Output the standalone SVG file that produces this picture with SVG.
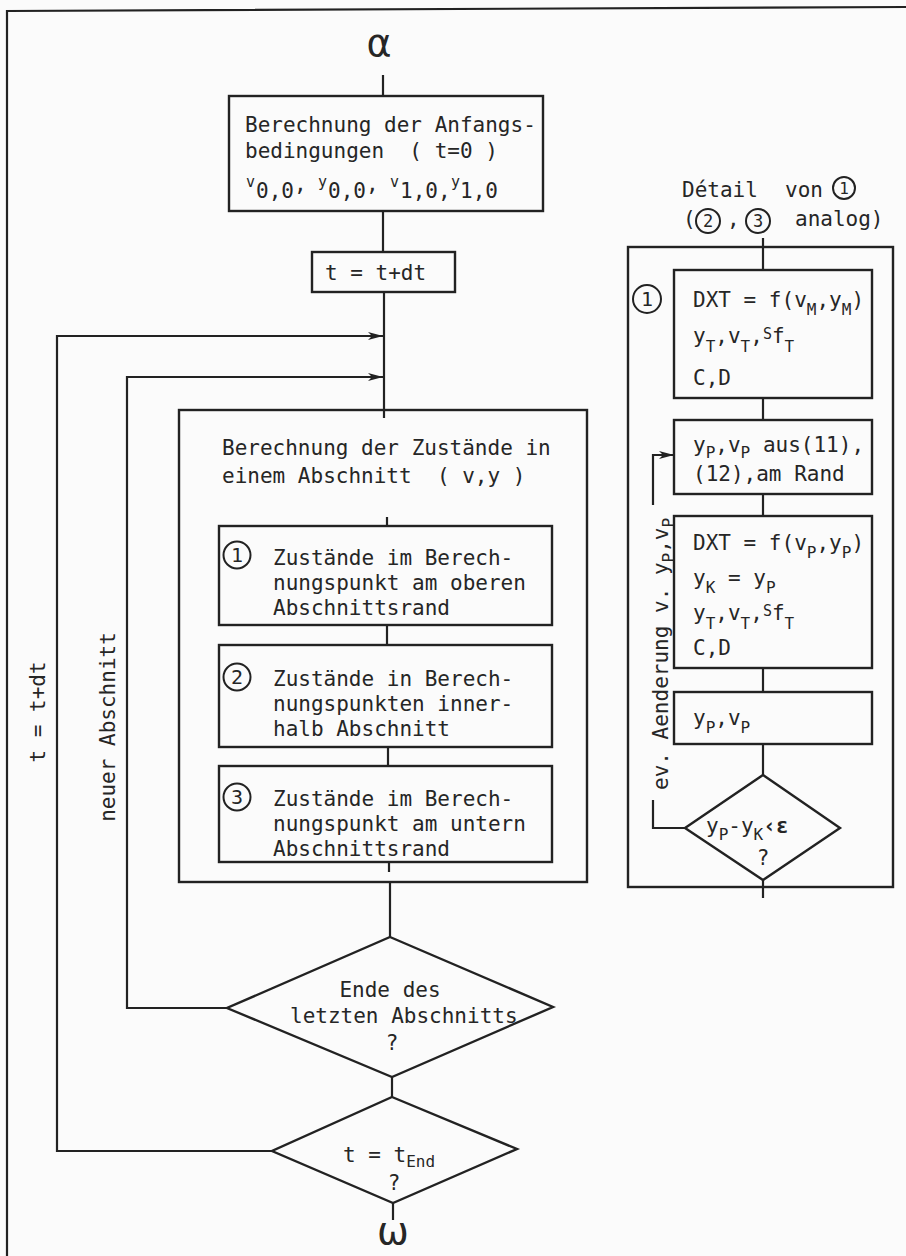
<svg xmlns="http://www.w3.org/2000/svg" width="906" height="1256" viewBox="0 0 906 1256">
<defs>
<marker id="arr" markerWidth="16" markerHeight="10" refX="15" refY="5" orient="auto" markerUnits="userSpaceOnUse">
<path d="M0,1 L15,5 L0,9 L4,5 Z" fill="#222"/>
</marker>
</defs>
<style>
.ln{fill:none;stroke:#222;stroke-width:2.2}
.bx{fill:none;stroke:#222;stroke-width:2.4}
.t{font-family:"DejaVu Sans Mono","Liberation Mono",monospace;font-size:21px;fill:#262626}
.s{font-size:15px}
.sb{font-size:16px}
.c{fill:none;stroke:#222;stroke-width:2}
.cd{font-family:"DejaVu Sans Mono","Liberation Mono",monospace;fill:#262626;text-anchor:middle}
.g{font-family:"DejaVu Sans","Liberation Sans",sans-serif;font-size:38px;fill:#262626;text-anchor:middle}
.m{text-anchor:middle}
</style>
<rect width="906" height="1256" fill="#fbfbfb"/>
<g id="frame"><path class="ln" d="M7,1256 L7,11 L906,7"/></g>

<g id="connectors">
<path class="ln" d="M383,75 V96"/>
<path class="ln" d="M383,211 V252"/>
<path class="ln" d="M384,292 V418"/>
<path class="ln" d="M272,1151 H57 V336 H383" marker-end="url(#arr)"/>
<path class="ln" d="M227,1008 H127 V377 H383" marker-end="url(#arr)"/>
<path class="ln" d="M387,517 V526"/>
<path class="ln" d="M387,625 V645"/>
<path class="ln" d="M388,747 V766"/>
<path class="ln" d="M389,862 V872"/>
<path class="ln" d="M390,882 V937"/>
<path class="ln" d="M392,1077 V1097"/>
<path class="ln" d="M393,1203 V1220"/>
<path class="ln" d="M763,238 V270"/>
<path class="ln" d="M763,398 V420"/>
<path class="ln" d="M763,494 V516"/>
<path class="ln" d="M763,668 V692"/>
<path class="ln" d="M763,744 V775"/>
<path class="ln" d="M763,880 V898"/>
<path class="ln" d="M685,828 H653 V800"/>
<path class="ln" d="M653,505 V455 H674" marker-end="url(#arr)"/>
</g>

<g id="labels">
<text class="t m" transform="translate(45,712) rotate(-90)">t = t+dt</text>
<text class="t m" transform="translate(115,727) rotate(-90)">neuer Abschnitt</text>
<text class="t" transform="translate(668,790) rotate(-90)">ev. Aenderung v. y<tspan class="sb" dy="6">P</tspan><tspan dy="-6">,v</tspan><tspan class="sb" dy="6">P</tspan></text>
</g>

<g id="alpha"><text class="g" x="379" y="56">α</text></g>

<g id="start">
<rect class="bx" x="229" y="96" width="314" height="115"/>
<text class="t" x="245" y="132">Berechnung der Anfangs-</text>
<text class="t" x="245" y="158" xml:space="preserve">bedingungen  ( t=0 )</text>
<text class="t" y="198"><tspan class="s" x="246" dy="-11">v</tspan><tspan x="256" dy="11">0,0</tspan><tspan x="294" dy="-7">,</tspan><tspan class="s" x="318" dy="-4">y</tspan><tspan x="328" dy="11">0,0</tspan><tspan x="366" dy="-7">,</tspan><tspan class="s" x="390" dy="-4">v</tspan><tspan x="400" dy="11">1,0,</tspan><tspan class="s" x="451" dy="-11">y</tspan><tspan x="460" dy="11">1,0</tspan></text>
</g>

<g id="step">
<rect class="bx" x="312" y="252" width="143" height="40"/>
<text class="t" x="325" y="280">t = t+dt</text>
</g>

<g id="section">
<rect class="bx" x="179" y="410" width="408" height="472"/>
<text class="t" x="222" y="455">Berechnung der Zustände in</text>
<text class="t" x="222" y="483" xml:space="preserve">einem Abschnitt  ( v,y )</text>
</g>

<g id="sub1">
<rect class="bx" x="219" y="526" width="333" height="99"/>
<circle class="c" cx="237" cy="555" r="13.5"/>
<text class="cd" x="237" y="562" font-size="20">1</text>
<text class="t" x="273" y="565">Zustände im Berech-</text>
<text class="t" x="273" y="590">nungspunkt am oberen</text>
<text class="t" x="273" y="615">Abschnittsrand</text>
</g>

<g id="sub2">
<rect class="bx" x="219" y="645" width="333" height="102"/>
<circle class="c" cx="237" cy="677" r="13.5"/>
<text class="cd" x="237" y="684" font-size="20">2</text>
<text class="t" x="273" y="686">Zustände in Berech-</text>
<text class="t" x="273" y="711">nungspunkten inner-</text>
<text class="t" x="273" y="736">halb Abschnitt</text>
</g>

<g id="sub3">
<rect class="bx" x="219" y="766" width="333" height="96"/>
<circle class="c" cx="237" cy="797" r="13.5"/>
<text class="cd" x="237" y="804" font-size="20">3</text>
<text class="t" x="273" y="806">Zustände im Berech-</text>
<text class="t" x="273" y="831">nungspunkt am untern</text>
<text class="t" x="273" y="856">Abschnittsrand</text>
</g>

<g id="decision1">
<polygon class="bx" points="390,937 553,1007 392,1077 227,1008"/>
<text class="t m" x="390" y="997">Ende des</text>
<text class="t" x="290" y="1023">letzten Abschnitts</text>
<text class="t m" x="392" y="1050">?</text>
</g>

<g id="decision2">
<polygon class="bx" points="392,1097 517,1149 393,1203 272,1151"/>
<text class="t" x="343" y="1162">t = t<tspan class="sb" dy="5">End</tspan></text>
<text class="t m" x="394" y="1190">?</text>
</g>

<g id="omega"><text class="g" x="393" y="1244">ω</text></g>

<g id="detail-title">
<text class="t" y="197"><tspan x="682">Détail</tspan><tspan x="785">von</tspan></text>
<circle class="c" cx="844" cy="188" r="11"/>
<text class="cd" x="844" y="194" font-size="16">1</text>
<text class="t" x="683" y="226">(</text>
<circle class="c" cx="708" cy="221" r="12"/>
<text class="cd" x="708" y="227" font-size="17">2</text>
<text class="t" x="727" y="226">,</text>
<circle class="c" cx="758" cy="221" r="12"/>
<text class="cd" x="758" y="227" font-size="17">3</text>
<text class="t" x="795" y="226">analog)</text>
</g>

<g id="detail">
<rect class="bx" x="628" y="247" width="265" height="640"/>
</g>

<g id="d1">
<rect class="bx" x="674" y="270" width="198" height="128"/>
<circle class="c" cx="647" cy="299" r="14"/>
<text class="cd" x="647" y="306" font-size="20">1</text>
<text class="t" x="693" y="307">DXT = f(v<tspan class="sb" dy="8">M</tspan><tspan dy="-8">,y</tspan><tspan class="sb" dy="8">M</tspan><tspan dy="-8">)</tspan></text>
<text class="t" x="693" y="343">y<tspan class="sb" dy="9">T</tspan><tspan dy="-9">,v</tspan><tspan class="sb" dy="9">T</tspan><tspan dy="-9">,</tspan><tspan class="s" dy="-4">S</tspan><tspan dy="4">f</tspan><tspan class="sb" dy="9">T</tspan></text>
<text class="t" x="693" y="385">C,D</text>
</g>

<g id="d2">
<rect class="bx" x="674" y="420" width="198" height="74"/>
<text class="t" x="693" y="452">y<tspan class="sb" dy="6">P</tspan><tspan dy="-6">,v</tspan><tspan class="sb" dy="6">P</tspan><tspan dy="-6"> aus(11),</tspan></text>
<text class="t" x="693" y="481">(12),am Rand</text>
</g>

<g id="d3">
<rect class="bx" x="674" y="516" width="198" height="152"/>
<text class="t" x="693" y="550">DXT = f(v<tspan class="sb" dy="8">P</tspan><tspan dy="-8">,y</tspan><tspan class="sb" dy="8">P</tspan><tspan dy="-8">)</tspan></text>
<text class="t" x="693" y="585">y<tspan class="sb" dy="8">K</tspan><tspan dy="-8"> = y</tspan><tspan class="sb" dy="8">P</tspan></text>
<text class="t" x="693" y="620">y<tspan class="sb" dy="9">T</tspan><tspan dy="-9">,v</tspan><tspan class="sb" dy="9">T</tspan><tspan dy="-9">,</tspan><tspan class="s" dy="-4">S</tspan><tspan dy="4">f</tspan><tspan class="sb" dy="9">T</tspan></text>
<text class="t" x="693" y="655">C,D</text>
</g>

<g id="d4">
<rect class="bx" x="674" y="692" width="198" height="52"/>
<text class="t" x="693" y="725">y<tspan class="sb" dy="8">P</tspan><tspan dy="-8">,v</tspan><tspan class="sb" dy="8">P</tspan></text>
</g>

<g id="d5">
<polygon class="bx" points="763,775 840,828 763,880 685,828"/>
<text class="t" x="706" y="833">y<tspan class="sb" dy="7">P</tspan><tspan dy="-7">-y</tspan><tspan class="sb" dy="7">K</tspan><tspan dy="-7" font-weight="bold">‹ε</tspan></text>
<text class="t m" x="763" y="865">?</text>
</g>
</svg>
